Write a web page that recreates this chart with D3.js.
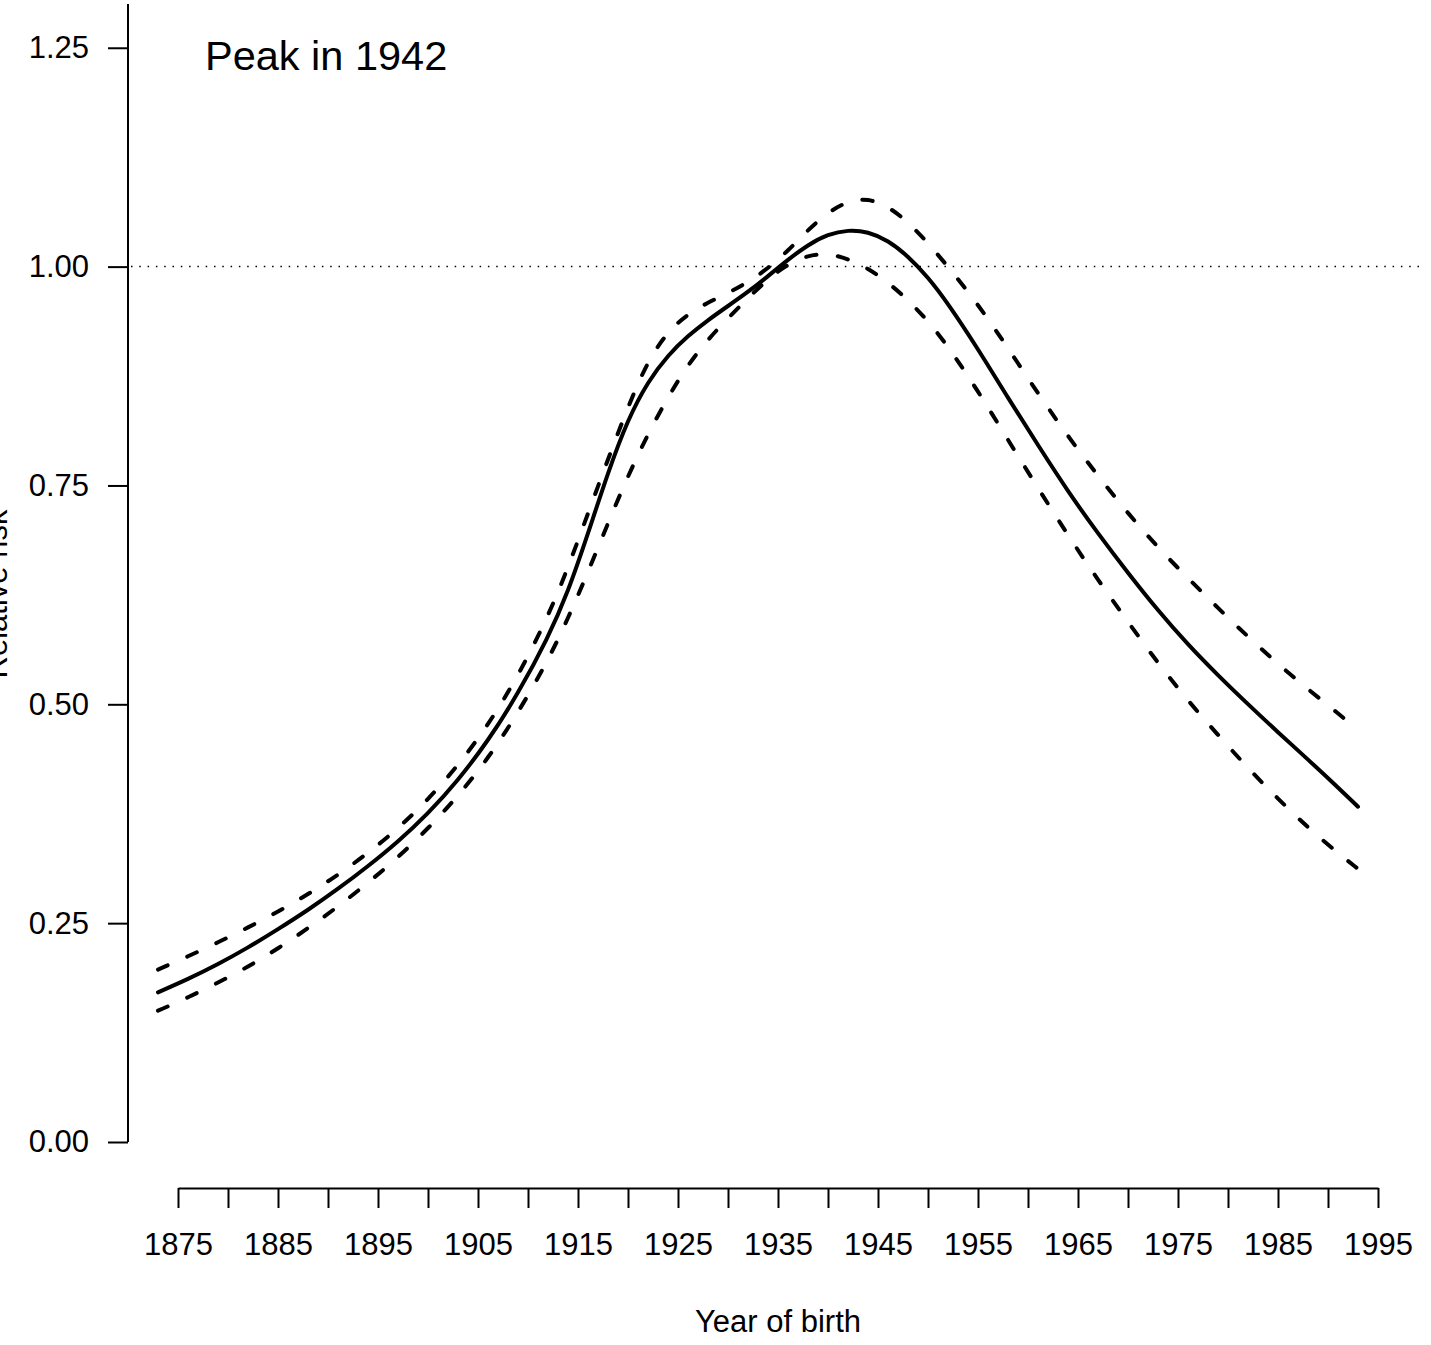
<!DOCTYPE html>
<html>
<head>
<meta charset="utf-8">
<script src="https://cdn.jsdelivr.net/npm/d3@7"></script>
<style>
  html, body { margin: 0; padding: 0; background: #fff; }
  svg { display: block; }
  text { font-family: "Liberation Sans", Arial, Helvetica, sans-serif; fill: #000; }
</style>
</head>
<body>
<script>
// Birth-cohort relative risk with pointwise confidence band
const years = [1873, 1876, 1879, 1882, 1885, 1888, 1891, 1894, 1897, 1900, 1903, 1906, 1909, 1912,
  1914, 1916, 1918, 1920, 1922, 1924, 1926, 1928, 1930, 1932, 1934, 1936, 1938, 1940, 1942, 1944,
  1946, 1948, 1950, 1952, 1955, 1958, 1961, 1964, 1967, 1970, 1973, 1976, 1979, 1982, 1985, 1988,
  1991, 1993];

const estimate = [0.171, 0.186, 0.203, 0.222, 0.243, 0.265, 0.289, 0.315, 0.343, 0.375, 0.413, 0.458,
  0.512, 0.576, 0.628, 0.695, 0.765, 0.826, 0.869, 0.899, 0.921, 0.939, 0.955, 0.971, 0.989, 1.008,
  1.025, 1.037, 1.042, 1.040, 1.030, 1.012, 0.988, 0.958, 0.906, 0.850, 0.796, 0.743, 0.695, 0.650,
  0.607, 0.568, 0.533, 0.500, 0.468, 0.437, 0.405, 0.383];

const upper = [0.197, 0.212, 0.228, 0.245, 0.263, 0.283, 0.305, 0.330, 0.358, 0.391, 0.430, 0.476,
  0.532, 0.600, 0.656, 0.718, 0.780, 0.840, 0.893, 0.926, 0.946, 0.959, 0.970, 0.982, 0.998, 1.018,
  1.042, 1.062, 1.075, 1.078, 1.069, 1.051, 1.027, 1.000, 0.957, 0.907, 0.855, 0.806, 0.761, 0.718,
  0.679, 0.644, 0.610, 0.577, 0.546, 0.517, 0.490, 0.470];

const lower = [0.150, 0.165, 0.182, 0.200, 0.221, 0.244, 0.269, 0.296, 0.325, 0.358, 0.395, 0.438,
  0.490, 0.550, 0.598, 0.651, 0.707, 0.761, 0.809, 0.851, 0.888, 0.917, 0.941, 0.964, 0.986, 1.003,
  1.013, 1.015, 1.009, 0.998, 0.982, 0.962, 0.938, 0.909, 0.858, 0.802, 0.747, 0.693, 0.642, 0.594,
  0.547, 0.504, 0.465, 0.427, 0.392, 0.359, 0.330, 0.312];

const yTicks = [0, 0.25, 0.5, 0.75, 1.0, 1.25];
const xTicks = d3.range(1875, 1996, 5);
const xLabelled = [1875, 1885, 1895, 1905, 1915, 1925, 1935, 1945, 1955, 1965, 1975, 1985, 1995];
const referenceLevel = 1.0;
const peakLabel = "Peak in 1942";
const xTitle = "Year of birth";
const yTitle = "Relative risk";

const W = 1431, H = 1345;
const plotLeft = 128, plotRight = 1420;

const x = d3.scaleLinear().domain([1875, 1995]).range([178, 1378]);
const y = d3.scaleLinear().domain([0, 1.3]).range([1142, 4]);

const svg = d3.select("body").append("svg")
  .attr("width", W).attr("height", H);

const fs = 31;

// y axis
const yAxisG = svg.append("g")
  .attr("transform", `translate(${plotLeft},0)`)
  .call(d3.axisLeft(y).tickValues(yTicks).tickSize(20).tickSizeOuter(0)
    .tickFormat(d3.format(".2f")).tickPadding(19));
yAxisG.select(".domain").remove();
yAxisG.append("line")
  .attr("x1", 0).attr("x2", 0)
  .attr("y1", y(1.3)).attr("y2", y(0))
  .attr("stroke", "#000").attr("stroke-width", 2);
yAxisG.selectAll(".tick line").attr("stroke", "#000").attr("stroke-width", 2);
yAxisG.selectAll(".tick text")
  .attr("font-size", fs).attr("font-family", "Liberation Sans, Arial, sans-serif")
  .attr("fill", "#000");

// x axis
const xAxisG = svg.append("g")
  .attr("transform", `translate(0,1188)`)
  .call(d3.axisBottom(x).tickValues(xTicks).tickSize(20).tickSizeOuter(0)
    .tickFormat(d => xLabelled.includes(d) ? String(d) : "").tickPadding(25));
xAxisG.select(".domain").attr("stroke", "#000").attr("stroke-width", 2);
xAxisG.selectAll(".tick line").attr("stroke", "#000").attr("stroke-width", 2);
xAxisG.selectAll(".tick text")
  .attr("font-size", fs).attr("font-family", "Liberation Sans, Arial, sans-serif")
  .attr("fill", "#000");

// reference line at RR = 1
svg.append("line")
  .attr("x1", plotLeft + 3).attr("x2", plotRight)
  .attr("y1", y(referenceLevel)).attr("y2", y(referenceLevel))
  .attr("stroke", "#000").attr("stroke-width", 1.5)
  .attr("stroke-dasharray", "1.5 6.8");

const line = d3.line()
  .x(d => x(d[0]))
  .y(d => y(d[1]))
  .curve(d3.curveBasis);

const band = [upper, lower];
band.forEach(series => {
  svg.append("path")
    .datum(years.map((yr, i) => [yr, series[i]]))
    .attr("d", line)
    .attr("fill", "none")
    .attr("stroke", "#000")
    .attr("stroke-width", 4)
    .attr("stroke-linecap", "round")
    .attr("stroke-dasharray", "10.5 21.5");
});

svg.append("path")
  .datum(years.map((yr, i) => [yr, estimate[i]]))
  .attr("d", line)
  .attr("fill", "none")
  .attr("stroke", "#000")
  .attr("stroke-width", 4)
  .attr("stroke-linecap", "round");

// annotation
svg.append("text")
  .attr("x", 205).attr("y", 70)
  .attr("font-size", 41.5)
  .text(peakLabel);

// axis titles
svg.append("text")
  .attr("x", (178 + 1378) / 2).attr("y", 1332)
  .attr("text-anchor", "middle")
  .attr("font-size", 31)
  .text(xTitle);

svg.append("text")
  .attr("transform", "translate(7,594) rotate(-90)")
  .attr("text-anchor", "middle")
  .attr("font-size", 31)
  .text(yTitle);
</script>
</body>
</html>
